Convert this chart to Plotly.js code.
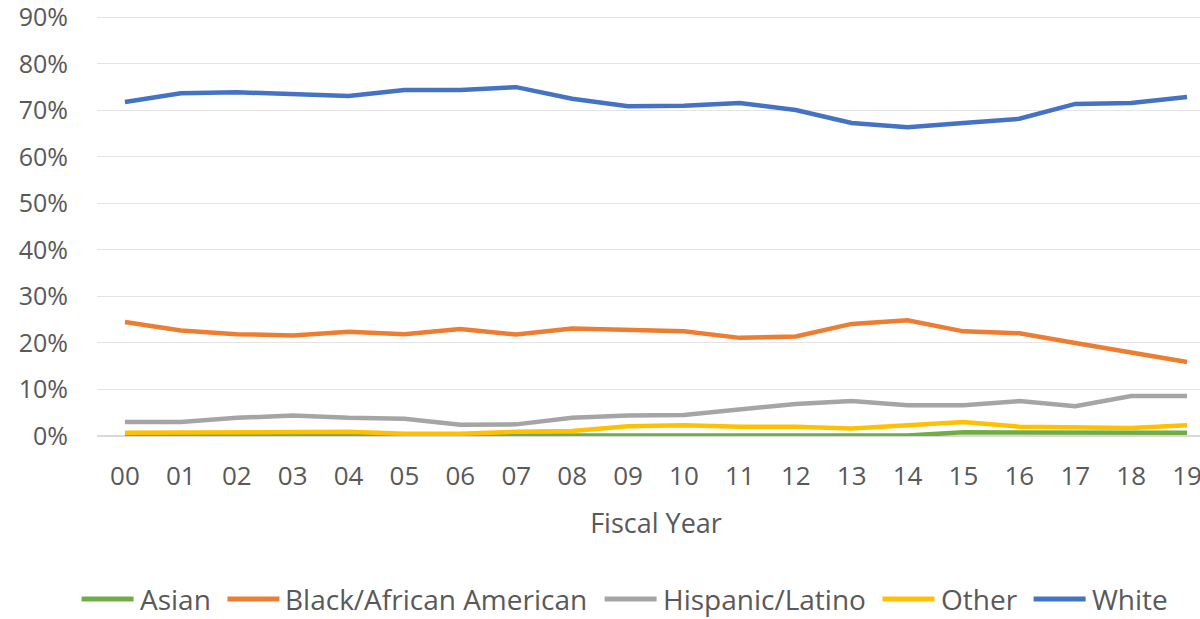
<!DOCTYPE html>
<html><head><meta charset="utf-8">
<script src="https://cdn.plot.ly/plotly-3.0.1.min.js"></script>
<style>html,body{margin:0;padding:0;overflow:hidden;background:#fff;width:1200px;height:619px}</style>
</head><body><div id="chart"></div>
<script>
const years = ['00','01','02','03','04','05','06','07','08','09','10','11','12','13','14','15','16','17','18','19'];
const asian    = [0.1,0.1,0.1,0.1,0.1,0.1,0.1,0.1,0.1,0.1,0.1,0.1,0.1,0.1,0.1,0.8,0.8,0.7,0.7,0.7];
const black    = [24.5,22.7,21.9,21.6,22.4,21.9,23.0,21.8,23.1,22.9,22.5,21.1,21.4,24.1,24.9,22.5,22.1,20.0,17.9,15.9];
const hispanic = [3.0,3.0,3.9,4.4,3.9,3.7,2.4,2.5,3.9,4.4,4.5,5.7,6.9,7.5,6.6,6.6,7.5,6.4,8.6,8.6];
const other    = [0.7,0.7,0.8,0.8,0.9,0.5,0.5,0.9,1.1,2.1,2.3,2.0,2.0,1.6,2.4,3.0,2.0,1.9,1.7,2.3];
const white    = [71.8,73.7,73.9,73.6,73.1,74.4,74.4,75.0,72.5,70.9,71.0,71.6,70.1,67.3,66.4,67.3,68.2,71.4,71.6,72.9];
const yTicks   = [0,10,20,30,40,50,60,70,80,90];

const names  = ['Asian','Black/African American','Hispanic/Latino','Other','White'];
const series = [asian, black, hispanic, other, white];
const colors = ['#70AD47','#ED7D31','#A5A5A5','#FFC000','#4472C4'];

const traces = series.map((s,i)=>({
  x: years, y: s, name: names[i], type:'scatter', mode:'lines',
  line:{color:colors[i], width:4.5}, hoverinfo:'none', showlegend:false
}));

const fam = '"Open Sans", Roboto, sans-serif';
const grey = '#595959';
const W = 1215, H = 619, ML = 97, MT = 16, MB = 183;
const plotW = W - ML, plotH = H - MT - MB;

// Custom legend (long line samples like the reference)
const legSize = 28, legLine = 52, legGap1 = 5, legGap2 = 18, legCenter = 624, legY = 599;
const ctx = document.createElement('canvas').getContext('2d');
ctx.font = legSize + 'px "Open Sans"';
const widths = names.map(n => ctx.measureText(n).width);
const total = widths.reduce((a,w)=>a+legLine+legGap1+w,0) + legGap2*(names.length-1);
let cx = legCenter - total/2;
const shapes = [], annotations = [];
const py = ((MT + plotH) - legY) / plotH;
names.forEach((n,i)=>{
  shapes.push({type:'line', xref:'paper', yref:'paper',
    x0:(cx-ML)/plotW, x1:(cx+legLine-ML)/plotW, y0:py, y1:py,
    line:{color:colors[i], width:5}});
  annotations.push({xref:'paper', yref:'paper', x:(cx+legLine+legGap1-ML)/plotW, y:py,
    xanchor:'left', yanchor:'middle', showarrow:false, text:n, borderpad:0,
    font:{family:fam, size:legSize, color:grey}});
  cx += legLine + legGap1 + widths[i] + legGap2;
});

const layout = {
  width:W, height:H,
  margin:{l:ML, r:0, t:MT, b:MB, autoexpand:false},
  paper_bgcolor:'#fff', plot_bgcolor:'#fff',
  font:{family:fam, color:grey, size:25},
  showlegend:false,
  shapes: shapes, annotations: annotations,
  xaxis:{type:'category', range:[-0.5,19.5], showgrid:false, zeroline:false,
         showline:false, ticks:'', tickfont:{family:fam, color:grey, size:26}, ticklabelstandoff:22,
         title:{text:'Fiscal Year', font:{family:fam, color:grey, size:27}, standoff:22}},
  yaxis:{range:[0,90.3], tickmode:'array', tickvals:yTicks, ticktext:yTicks.map(v=>v+'%'),
         tickfont:{family:fam, color:grey, size:25}, ticklabeloverflow:'allow',
         showgrid:true, gridcolor:'#E4E4E4', gridwidth:1,
         zeroline:true, zerolinecolor:'#D9D9D9', zerolinewidth:1.5,
         showline:false, ticks:'', ticklabelstandoff:28, fixedrange:true}
};
Plotly.newPlot('chart', traces, layout, {displayModeBar:false, staticPlot:true});
</script></body></html>
